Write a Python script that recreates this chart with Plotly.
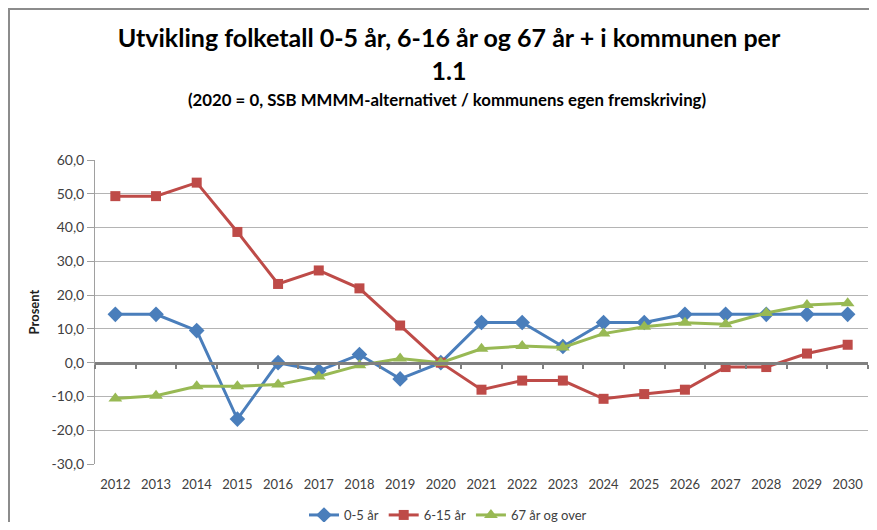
import plotly.graph_objects as go

# data
years = ['2012', '2013', '2014', '2015', '2016', '2017', '2018', '2019', '2020', '2021',
         '2022', '2023', '2024', '2025', '2026', '2027', '2028', '2029', '2030']
age_0_5 = [14.3, 14.3, 9.5, -16.7, 0.0, -2.4, 2.4, -4.8, 0.0, 11.9,
           11.9, 4.8, 11.9, 11.9, 14.3, 14.3, 14.3, 14.3, 14.3]
age_6_15 = [49.3, 49.3, 53.3, 38.7, 23.3, 27.3, 22.0, 11.0, 0.0, -8.0,
            -5.3, -5.3, -10.7, -9.3, -8.0, -1.3, -1.3, 2.7, 5.3]
age_67 = [-10.6, -9.8, -7.0, -7.0, -6.5, -4.1, -0.8, 1.2, 0.0, 4.1,
          4.9, 4.5, 8.6, 10.6, 11.8, 11.4, 14.7, 17.1, 17.6]

y_ticks = [-30, -20, -10, 0, 10, 20, 30, 40, 50, 60]
y_labels = ['-30,0', '-20,0', '-10,0', '0,0', '10,0', '20,0', '30,0', '40,0', '50,0', '60,0']

FONT = 'Lato'

series = [
    ('0-5 år', age_0_5, '#4A7EBB', 'diamond', 12),
    ('6-15 år', age_6_15, '#BE4B48', 'square', 10),
    ('67 år og over', age_67, '#98B954', 'triangle-up', 12),
]

# page has an 8px body margin, so the figure is sized to fit inside it
W, H = 861, 514
L, R, T, B = 87, 1, 152, 58
PW, PH = W - L - R, H - T - B
x_range = [-0.5, len(years) - 0.5]

fig = go.Figure()

# invisible trace that carries the axis drawn along y = 0
fig.add_trace(go.Scatter(x=years, y=[None] * len(years), xaxis='x2',
                         showlegend=False, hoverinfo='skip'))

for name, vals, color, symbol, size in series:
    fig.add_trace(go.Scatter(
        x=years, y=vals, name=name, mode='lines+markers',
        line=dict(color=color, width=3),
        marker=dict(symbol=symbol, size=size, color=color),
    ))

fig.update_layout(
    width=W, height=H,
    margin=dict(l=L, r=R, t=T, b=B),
    paper_bgcolor='white', plot_bgcolor='white',
    font=dict(family=FONT, size=13, color='#404040'),
    showlegend=True,
    legend=dict(orientation='h', x=440 / W, xref='container', xanchor='center',
                y=1 - 507 / H, yref='container', yanchor='middle',
                font=dict(size=13, color='#404040')),
    xaxis=dict(type='category', categoryorder='array', categoryarray=years,
               range=x_range, autorange=False,
               showgrid=False, showline=False, ticks='outside', ticklen=8,
               tickcolor='rgba(0,0,0,0)',
               tickfont=dict(size=13, color='#404040')),
    xaxis2=dict(type='category', categoryorder='array', categoryarray=years,
                range=x_range, autorange=False,
                overlaying='x', anchor='free', position=1 / 3,
                showline=True, linecolor='#808080', linewidth=3,
                ticks='outside', ticklen=4, tickwidth=2, tickcolor='#808080',
                tickson='boundaries', showticklabels=False, showgrid=False),
    yaxis=dict(range=[-30, 60], tickvals=y_ticks, ticktext=y_labels,
               showgrid=True, gridcolor='#B4B4B4', gridwidth=1,
               zeroline=False, showline=True, linecolor='#A0A0A0', linewidth=1,
               ticks='outside', ticklen=7, tickcolor='#A0A0A0',
               tickfont=dict(size=14, color='#404040'),
               title=dict(text='<b>Prosent</b>', font=dict(size=13, color='#202020'),
                          standoff=8)),
    title=dict(text='<b>Utvikling folketall 0-5 år, 6-16 år og 67 år + i kommunen per<br>1.1</b>',
               x=441 / W, xref='container', xanchor='center',
               y=1 - 39 / H, yref='container', yanchor='middle',
               font=dict(family=FONT, size=25, color='black')),
    annotations=[dict(text='<b>(2020 = 0, SSB MMMM-alternativet / kommunens egen fremskriving)</b>',
                      x=(439 - L) / PW, xref='paper', xanchor='center',
                      y=(T + PH - 92) / PH, yref='paper', yanchor='middle',
                      showarrow=False, font=dict(family=FONT, size=16.8, color='black'))],
    shapes=[dict(type='rect', xref='paper', yref='paper',
                 x0=(1 - L) / PW, x1=(900 - L) / PW,
                 y0=(T + PH - 600) / PH, y1=(T + PH - 1) / PH,
                 line=dict(color='#8C8C8C', width=2), fillcolor='rgba(0,0,0,0)',
                 layer='below')],
)

fig.write_html('out.html')
